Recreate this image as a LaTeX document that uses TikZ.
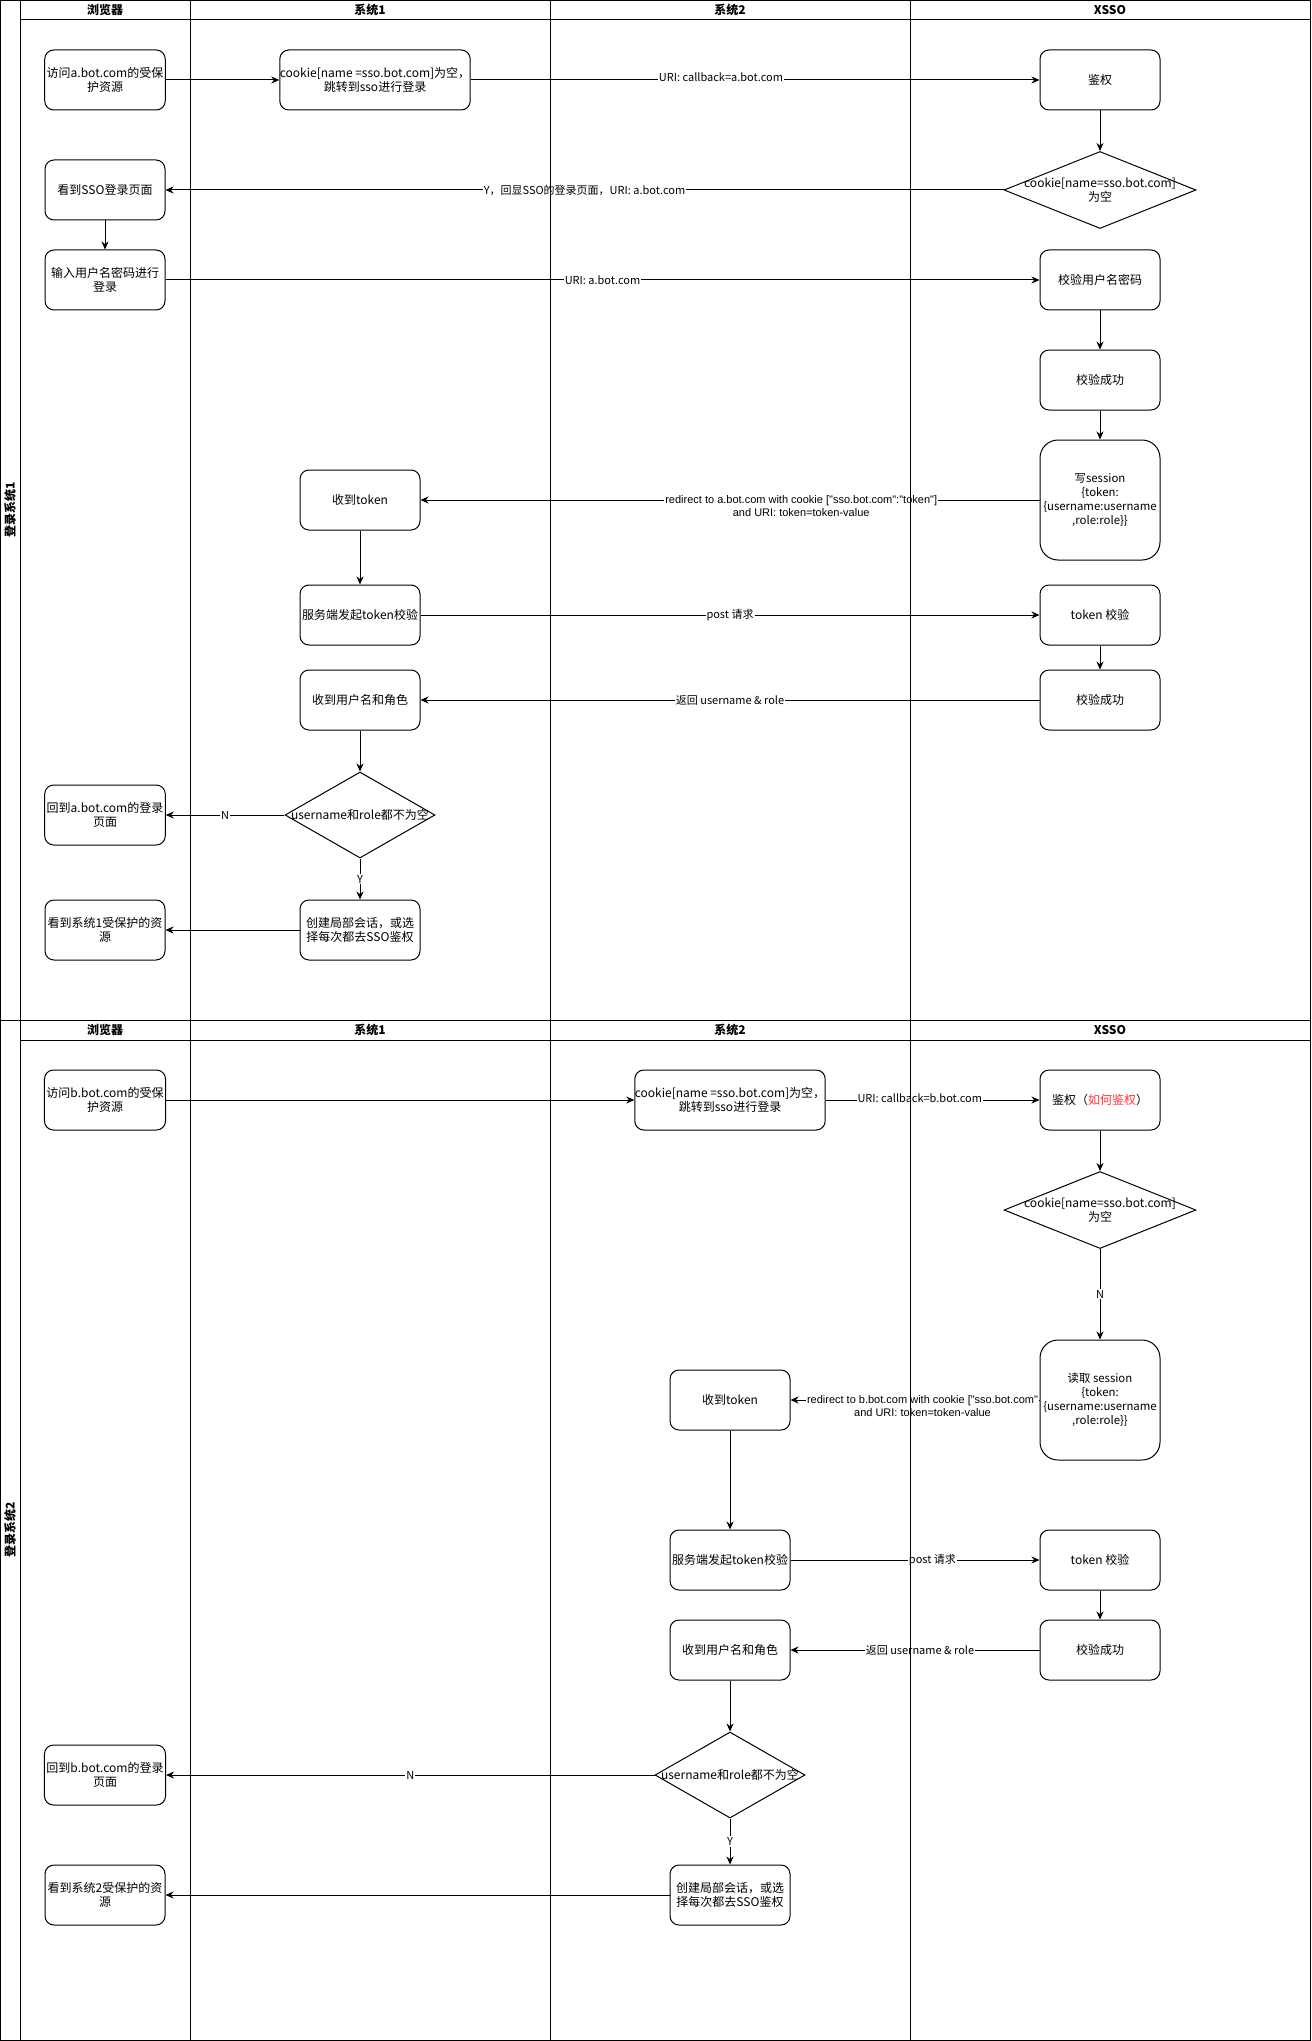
\documentclass[tikz,border=0pt]{standalone}
\usepackage{fontspec}
\setmainfont{Noto Sans CJK SC}
\newfontfamily\latinfont{Liberation Sans}[Ligatures=TeXOff]
\usetikzlibrary{shapes.geometric,arrows.meta}
\definecolor{warnred}{RGB}{255,51,51}
\tikzset{node distance=110pt, >={Stealth[length=8pt,width=7pt]},
  procbox/.style={draw, rounded corners=9pt, minimum width=120pt, minimum height=60pt, inner sep=2pt, align=center, font=\fontsize{12}{14}\selectfont},
  widebox/.style={procbox, minimum width=190pt, inner sep=0pt},
  tallbox/.style={procbox, minimum height=120pt, rounded corners=18pt, inner sep=0pt, font=\fontsize{11.4}{14}\selectfont},
  choice/.style={draw, diamond, inner sep=0pt, minimum width=192pt, minimum height=77pt},
  smallchoice/.style={choice, minimum width=150pt, minimum height=86pt},
  choicetext/.style={align=center, inner sep=0pt, font=\fontsize{12}{14}\selectfont},
  lbl/.style={fill=white, inner sep=1pt, align=center, font=\fontsize{11}{13}\selectfont},
  lane/.style={font=\bfseries\fontsize{12}{14}\selectfont}
}

\begin{document}
\begin{tikzpicture}[x=1pt, y=-1pt, line width=1pt]
  \useasboundingbox (0,0) rectangle (1311,2041);

  % pool 1
  \node[procbox] (a1) at (105,80) {访问a.bot.com的受保\\护资源};
  \node[widebox] (c1) [right of=a1, node distance=270pt] {cookie[name =sso.bot.com]为空，\\跳转到sso进行登录};
  \node[procbox] (j1) [right of=a1, node distance=995pt] {鉴权};
  \node[choice] (d1) [below of=j1] {};
  \node[choicetext] (d1t) at (d1) {cookie[name=sso.bot.com]\\为空};
  \node[procbox] (s1) [below of=a1] {看到SSO登录页面};
  \node[procbox] (i1) [below of=s1, node distance=90pt] {输入用户名密码进行\\登录};
  \node[procbox] (v1) [below of=d1, node distance=90pt] {校验用户名密码};
  \node[procbox] (ok1) [below of=v1, node distance=100pt] {校验成功};
  \node[tallbox] (w1) [below of=ok1, node distance=120pt] {写session\\\{token:\\\{username:username\\,role:role\}\}};
  \node[procbox] (t1) at (360,500) {收到token};
  \node[procbox] (p1) [below of=t1, node distance=115pt] {服务端发起token校验};
  \node[procbox] (tv1) [below of=w1, node distance=115pt] {token 校验};
  \node[procbox] (ok1b) [below of=tv1, node distance=85pt] {校验成功};
  \node[procbox] (r1) [below of=p1, node distance=85pt] {收到用户名和角色};
  \node[smallchoice] (q1) [below of=r1, node distance=115pt] {};
  \node[choicetext] (q1t) at (q1) {username和role都不为空};
  \node[procbox] (back1) [left of=q1, node distance=255pt] {回到a.bot.com的登录\\页面};
  \node[procbox] (loc1) [below of=q1, node distance=115pt] {创建局部会话，或选\\择每次都去SSO鉴权};
  \node[procbox] (see1) [left of=loc1, node distance=255pt] {看到系统1受保护的资\\源};

  \draw[->] (a1) to (c1);
  \draw[->] (c1) to node[lbl, pos=.44, yshift=3pt] {URI: callback=a.bot.com} (j1);
  \draw[->] (j1) to (d1);
  \draw[->] (d1) to node[lbl] {Y，回显SSO的登录页面，URI: a.bot.com} (s1);
  \draw[->] (s1) to (i1);
  \draw[->] (i1) to node[lbl] {URI: a.bot.com} (v1);
  \draw[->] (v1) to (ok1);
  \draw[->] (ok1) to (w1);
  \draw[->] (w1) to node[lbl, pos=.385, yshift=-6pt, font=\latinfont\fontsize{11}{13}\selectfont] {redirect to a.bot.com with cookie ["sso.bot.com":"token"]\\and URI: token=token-value} (t1);
  \draw[->] (t1) to (p1);
  \draw[->] (p1) to node[lbl] {post 请求} (tv1);
  \draw[->] (tv1) to (ok1b);
  \draw[->] (ok1b) to node[lbl] {返回 username \& role} (r1);
  \draw[->] (r1) to (q1);
  \draw[->] (q1) to node[lbl] {N} (back1);
  \draw[->] (q1) to node[lbl] {Y} (loc1);
  \draw[->] (loc1) to (see1);

  % pool 2
  \node[procbox] (a2) at (105,1100) {访问b.bot.com的受保\\护资源};
  \node[widebox] (c2) [right of=a2, node distance=625pt] {cookie[name =sso.bot.com]为空，\\跳转到sso进行登录};
  \node[procbox] (j2) [right of=a2, node distance=995pt] {鉴权（\textcolor{warnred}{如何鉴权}）};
  \node[choice] (d2) [below of=j2] {};
  \node[choicetext] (d2t) at (d2) {cookie[name=sso.bot.com]\\为空};
  \node[tallbox] (rs2) [below of=d2, node distance=190pt] {读取 session\\\{token:\\\{username:username\\,role:role\}\}};
  \node[procbox] (t2) [left of=rs2, node distance=370pt] {收到token};
  \node[procbox] (p2) [below of=t2, node distance=160pt] {服务端发起token校验};
  \node[procbox] (tv2) [right of=p2, node distance=370pt] {token 校验};
  \node[procbox] (ok2) [below of=tv2, node distance=90pt] {校验成功};
  \node[procbox] (r2) [left of=ok2, node distance=370pt] {收到用户名和角色};
  \node[smallchoice] (q2) [below of=r2, node distance=125pt] {};
  \node[choicetext] (q2t) at (q2) {username和role都不为空};
  \node[procbox] (back2) [left of=q2, node distance=625pt] {回到b.bot.com的登录\\页面};
  \node[procbox] (loc2) [below of=q2, node distance=120pt] {创建局部会话，或选\\择每次都去SSO鉴权};
  \node[procbox] (see2) [left of=loc2, node distance=625pt] {看到系统2受保护的资\\源};

  \draw[->] (a2) to (c2);
  \draw[->] (c2) to node[lbl, pos=.44, yshift=2pt] {URI: callback=b.bot.com} (j2);
  \draw[->] (j2) to (d2);
  \draw[->] (d2) to node[lbl] {N} (rs2);
  \draw[->] (rs2) to node[lbl, pos=.47, yshift=-6pt, font=\latinfont\fontsize{11}{13}\selectfont] {redirect to b.bot.com with cookie ["sso.bot.com"\\and URI: token=token-value} (t2);
  \draw[->] (t2) to (p2);
  \draw[->] (p2) to node[lbl, pos=.57] {post 请求} (tv2);
  \draw[->] (tv2) to (ok2);
  \draw[->] (ok2) to node[lbl, pos=.48] {返回 username \& role} (r2);
  \draw[->] (r2) to (q2);
  \draw[->] (q2) to node[lbl] {N} (back2);
  \draw[->] (q2) to node[lbl] {Y} (loc2);
  \draw[->] (loc2) to (see2);

  % swimlanes
  \draw (0.5,0.5) rectangle (1310.5,1020);
  \draw (0.5,1020) rectangle (1310.5,2040.5);
  \draw (20,0.5) -- (20,2040.5);
  \draw (190,0.5) -- (190,2040.5);
  \draw (550,0.5) -- (550,2040.5);
  \draw (910,0.5) -- (910,2040.5);
  \draw (20,20) -- (1310.5,20);
  \draw (20,1040) -- (1310.5,1040);

  \node[lane, rotate=90] (side1) at (10,510) {登录系统1};
  \node[lane, rotate=90] (side2) at (10,1530) {登录系统2};
  \node[lane] (hb1) at (105,10) {浏览器};
  \node[lane] (hs1) at (370,10) {系统1};
  \node[lane] (ht1) at (730,10) {系统2};
  \node[lane] (hx1) at (1110,10) {XSSO};
  \node[lane] (hb2) at (105,1030) {浏览器};
  \node[lane] (hs2) at (370,1030) {系统1};
  \node[lane] (ht2) at (730,1030) {系统2};
  \node[lane] (hx2) at (1110,1030) {XSSO};
\end{tikzpicture}
\end{document}
